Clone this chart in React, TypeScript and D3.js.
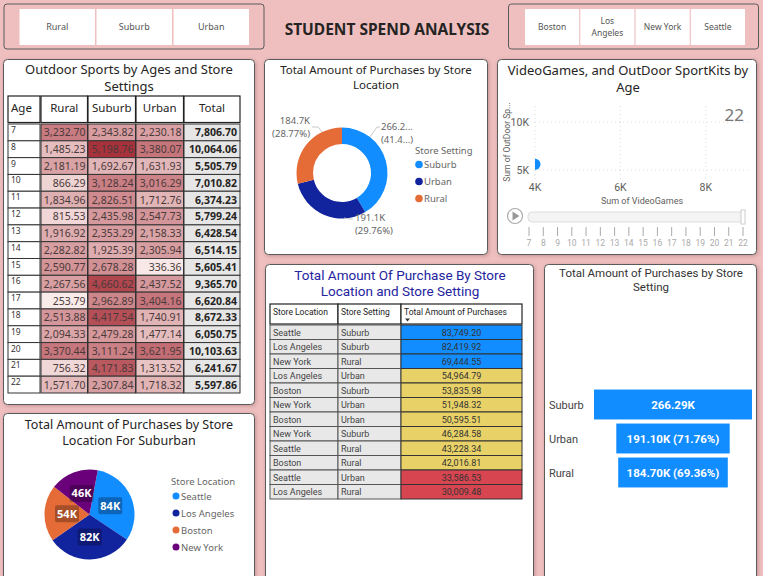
import React from "react";
import * as d3 from "d3";

// ---------- DATA ----------
const settingSlicer = ["Rural", "Suburb", "Urban"];
const locationSlicer = ["Boston", "Los Angeles", "New York", "Seattle"];

const ages = [7, 8, 9, 10, 11, 12, 13, 14, 15, 16, 17, 18, 19, 20, 21, 22];
const ruralByAge = [3232.70, 1485.23, 2181.19, 866.29, 1834.96, 815.53, 1916.92, 2282.82, 2590.77, 2267.56, 253.79, 2513.88, 2094.33, 3370.44, 756.32, 1571.70];
const suburbByAge = [2343.82, 5198.76, 1692.67, 3128.24, 2826.51, 2435.98, 2353.29, 1925.39, 2678.28, 4660.62, 2962.89, 4417.54, 2479.28, 3111.24, 4171.83, 2307.84];
const urbanByAge = [2230.18, 3380.07, 1631.93, 3016.29, 1712.76, 2547.73, 2158.33, 2305.94, 336.36, 2437.52, 3404.16, 1740.91, 1477.14, 3621.95, 1313.52, 1718.32];
const totalByAge = [7806.70, 10064.06, 5505.79, 7010.82, 6374.23, 5799.24, 6428.54, 6514.15, 5605.41, 9365.70, 6620.84, 8672.33, 6050.75, 10103.63, 6241.67, 5597.86];
const ageTableHeaders = ["Age", "Rural", "Suburb", "Urban", "Total"];

const donutSettings = ["Suburb", "Urban", "Rural"];
const donutValues = [266290, 191100, 184700];
const donutLabels = [["266.2...", "(41.4...)"], ["191.1K", "(29.76%)"], ["184.7K", "(28.77%)"]];

const scatterAge = [22];
const scatterVideoGames = [4000];
const scatterOutdoor = [5597.86];
const scatterXTicks = [4000, 6000, 8000];
const scatterYTicks = [5000, 10000];

const storeLocations = ["Seattle", "Los Angeles", "New York", "Los Angeles", "Boston", "New York", "Boston", "New York", "Seattle", "Boston", "Seattle", "Los Angeles"];
const storeSettings = ["Suburb", "Suburb", "Rural", "Urban", "Suburb", "Urban", "Urban", "Suburb", "Rural", "Rural", "Urban", "Rural"];
const storeAmounts = [83749.20, 82419.92, 69444.55, 54964.79, 53835.98, 51948.32, 50595.51, 46284.58, 43228.34, 42016.81, 33586.53, 30009.48];
const storeHeaders = ["Store Location", "Store Setting", "Total Amount of Purchases"];

const funnelSettings = ["Suburb", "Urban", "Rural"];
const funnelValues = [266290, 191100, 184700];
const funnelLabels = ["266.29K", "191.10K (71.76%)", "184.70K (69.36%)"];

const pieLocations = ["Seattle", "Los Angeles", "Boston", "New York"];
const pieValues = [83749.20, 82419.92, 53835.98, 46284.58];
const pieLabels = ["84K", "82K", "54K", "46K"];

// ---------- STYLE ----------
const SEGOE = "'Noto Sans', 'Open Sans', sans-serif";
const DIN = "'Roboto', 'Noto Sans', sans-serif";
const PINK = "#efbfc0";
const BORDER = "#5a5a5a";
const C_BLUE = "#118dff";
const C_NAVY = "#12239e";
const C_ORANGE = "#e66c37";
const C_PURPLE = "#6b007b";

const fmt2 = d3.format(",.2f");

function Panel({ x, y, w, h }: { x: number; y: number; w: number; h: number }) {
  return <rect x={x} y={y} width={w} height={h} rx={4} fill="#fff" stroke={BORDER} strokeWidth={1} filter="url(#shadow)" />;
}

function Slicers() {
  const left = d3.scaleBand<string>().domain(settingSlicer).range([19.5, 249]).paddingInner(0.02);
  const right = d3.scaleBand<string>().domain(locationSlicer).range([525, 745]).paddingInner(0.02);
  return (
    <g>
      <rect x={4} y={4} width={260} height={45} rx={3} fill={PINK} stroke={BORDER} strokeWidth={1} />
      {settingSlicer.map((s) => (
        <g key={s}>
          <rect x={left(s)} y={9} width={left.bandwidth()} height={36} fill="#fff" />
          <text x={left(s)! + left.bandwidth() / 2} y={30} textAnchor="middle" fontFamily={SEGOE} fontSize={9} fill="#555">{s}</text>
        </g>
      ))}
      <rect x={508.5} y={4} width={250} height={45} rx={3} fill={PINK} stroke={BORDER} strokeWidth={1} />
      {locationSlicer.map((s) => {
        const parts = s === "Los Angeles" ? ["Los", "Angeles"] : [s];
        return (
          <g key={s}>
            <rect x={right(s)} y={9} width={right.bandwidth()} height={36} fill="#fff" />
            {parts.map((p, i) => (
              <text key={p} x={right(s)! + right.bandwidth() / 2} y={parts.length === 1 ? 30 : 24 + i * 12} textAnchor="middle" fontFamily={SEGOE} fontSize={8.5} fill="#555">{p}</text>
            ))}
          </g>
        );
      })}
      <text x={387} y={35} textAnchor="middle" fontFamily={SEGOE} fontWeight={700} fontSize={15.5} fill="#252423">STUDENT SPEND ANALYSIS</text>
    </g>
  );
}

function AgeTable() {
  const cols = [[8, 40], [41, 87.5], [88, 135.5], [136, 183.5], [184, 240]];
  const rowY = d3.scaleBand<number>().domain(ages).range([124, 393]).padding(0);
  const all = [...ruralByAge, ...suburbByAge, ...urbanByAge];
  const color = d3.scaleLinear<string>().domain([d3.min(all)!, d3.max(all)!]).range(["#f9ebea", "#a8323b"]).interpolate(d3.interpolateRgb);
  const series = [ruralByAge, suburbByAge, urbanByAge];
  return (
    <g>
      <Panel x={3.5} y={59.5} w={251} h={345} />
      <text x={129} y={74} textAnchor="middle" fontFamily={SEGOE} fontSize={13} fill="#252423">Outdoor Sports by Ages and Store</text>
      <text x={129} y={91} textAnchor="middle" fontFamily={SEGOE} fontSize={13} fill="#252423">Settings</text>
      {ageTableHeaders.map((h, i) => (
        <g key={h}>
          <rect x={cols[i][0]} y={96} width={cols[i][1] - cols[i][0]} height={26.5} fill="#fff" stroke="#222" strokeWidth={1.2} />
          <text x={i === 0 ? cols[i][0] + 3 : (cols[i][0] + cols[i][1]) / 2} y={112} textAnchor={i === 0 ? "start" : "middle"} fontFamily={SEGOE} fontSize={11.5} fill="#252423">{h}</text>
        </g>
      ))}
      {ages.map((a, r) => {
        const y = rowY(a)!;
        const hgt = rowY.bandwidth();
        return (
          <g key={a}>
            <rect x={cols[0][0]} y={y} width={cols[0][1] - cols[0][0]} height={hgt} fill="#fff" stroke="#333" strokeWidth={1} />
            <text x={cols[0][0] + 3} y={y + 9} fontFamily={SEGOE} fontSize={8.5} fill="#333">{a}</text>
            {series.map((s, c) => (
              <g key={c}>
                <rect x={cols[c + 1][0]} y={y} width={cols[c + 1][1] - cols[c + 1][0]} height={hgt} fill={color(s[r])} stroke="#333" strokeWidth={1} />
                <text x={cols[c + 1][1] - 2} y={y + hgt / 2 + 4} textAnchor="end" fontFamily={SEGOE} fontSize={10.5} fill="#4a3a3a">{fmt2(s[r])}</text>
              </g>
            ))}
            <rect x={cols[4][0]} y={y} width={cols[4][1] - cols[4][0]} height={hgt} fill="#e6e6e6" stroke="#333" strokeWidth={1} />
            <text x={cols[4][1] - 3} y={y + hgt / 2 + 4} textAnchor="end" fontFamily={SEGOE} fontWeight={700} fontSize={10.5} fill="#252423">{fmt2(totalByAge[r])}</text>
          </g>
        );
      })}
    </g>
  );
}

function Donut() {
  const cx = 342, cy = 173;
  const colors = d3.scaleOrdinal<string, string>().domain(donutSettings).range([C_BLUE, C_NAVY, C_ORANGE]);
  const pie = d3.pie<number>().sort(null).value((d) => d);
  const arcs = pie(donutValues);
  const arc = d3.arc<d3.PieArcDatum<number>>().innerRadius(29).outerRadius(45.5);
  const labelPos = [
    { x: cx + 39, y: cy - 43, anchor: "start", line: [[cx + 28, cy - 36], [cx + 35, cy - 46], [cx + 38, cy - 46]] },
    { x: cx + 13, y: cy + 48, anchor: "start", line: [[cx + 2, cy + 45], [cx + 7, cy + 46], [cx + 11, cy + 46]] },
    { x: cx - 32, y: cy - 49, anchor: "end", line: [[cx - 20, cy - 41], [cx - 24, cy - 46], [cx - 30, cy - 46]] },
  ];
  return (
    <g>
      <Panel x={264.5} y={59.5} w={223} h={195} />
      <text x={376} y={74} textAnchor="middle" fontFamily={SEGOE} fontSize={11.5} fill="#252423">Total Amount of Purchases by Store</text>
      <text x={376} y={89} textAnchor="middle" fontFamily={SEGOE} fontSize={11.5} fill="#252423">Location</text>
      <g transform={`translate(${cx},${cy})`}>
        {arcs.map((a, i) => (
          <path key={i} d={arc(a)!} fill={colors(donutSettings[i])} />
        ))}
      </g>
      {labelPos.map((l, i) => (
        <g key={i}>
          <polyline points={l.line.map((p) => p.join(",")).join(" ")} fill="none" stroke="#c8c8c8" strokeWidth={1} />
          <text x={l.x} y={l.y} textAnchor={l.anchor} fontFamily={SEGOE} fontSize={9.5} fill="#666">{donutLabels[i][0]}</text>
          <text x={l.x} y={l.y + 13} textAnchor={l.anchor} fontFamily={SEGOE} fontSize={9.5} fill="#666">{donutLabels[i][1]}</text>
        </g>
      ))}
      <text x={415} y={154} fontFamily={SEGOE} fontSize={9.5} fill="#666">Store Setting</text>
      {donutSettings.map((s, i) => (
        <g key={s}>
          <circle cx={419} cy={164.5 + i * 17} r={3.8} fill={colors(s)} />
          <text x={424} y={168 + i * 17} fontFamily={SEGOE} fontSize={9.5} fill="#666">{s}</text>
        </g>
      ))}
    </g>
  );
}

function Scatter() {
  const x = d3.scaleLinear().domain([4000, 9000]).range([535, 748.5]);
  const y = d3.scaleLinear().domain([5000, 10000]).range([170, 122]);
  const top = 106, bottom = 180;
  const slider = d3.scalePoint<number>().domain(ages).range([529, 743]);
  return (
    <g>
      <Panel x={497.5} y={59.5} w={259} h={195} />
      <defs>
        <clipPath id="plotClip">
          <rect x={x(4000)} y={top} width={x(9000) - x(4000)} height={bottom - top} />
        </clipPath>
      </defs>
      <text x={628} y={75} textAnchor="middle" fontFamily={SEGOE} fontSize={13} fill="#252423">VideoGames, and OutDoor SportKits by</text>
      <text x={628} y={92} textAnchor="middle" fontFamily={SEGOE} fontSize={13} fill="#252423">Age</text>
      {scatterXTicks.map((t) => (
        <g key={t}>
          <line x1={x(t)} x2={x(t)} y1={top} y2={bottom} stroke="#ddd" strokeDasharray="1,3" />
          <text x={x(t)} y={191} textAnchor="middle" fontFamily={DIN} fontSize={10.5} fill="#605e5c">{d3.format("~s")(t).replace("k", "K")}</text>
        </g>
      ))}
      {scatterYTicks.map((t) => (
        <g key={t}>
          <line x1={x(4000)} x2={x(9000)} y1={y(t)} y2={y(t)} stroke="#ddd" strokeDasharray="1,3" />
          <text x={529} y={y(t) + 4} textAnchor="end" fontFamily={DIN} fontSize={10.5} fill="#605e5c">{d3.format("~s")(t).replace("k", "K")}</text>
        </g>
      ))}
      <text transform={`translate(510,142) rotate(-90)`} textAnchor="middle" fontFamily={DIN} fontSize={8.5} fill="#605e5c">Sum of OutDoor Sp...</text>
      <text x={642} y={204} textAnchor="middle" fontFamily={DIN} fontSize={9} fill="#605e5c">Sum of VideoGames</text>
      <g clipPath="url(#plotClip)">
        {scatterAge.map((a, i) => (
          <circle key={a} cx={x(scatterVideoGames[i])} cy={y(scatterOutdoor[i])} r={5.5} fill={C_BLUE} />
        ))}
      </g>
      <text x={744} y={121} textAnchor="end" fontFamily={SEGOE} fontSize={17} fill="#777">{scatterAge[0]}</text>
      <circle cx={515} cy={216} r={7.5} fill="#fff" stroke="#aaa" strokeWidth={1.2} />
      <path d="M512.5,211.5 L519.5,216 L512.5,220.5 Z" fill="#999" />
      <rect x={528} y={212} width={216} height={10} rx={4} fill="#f4f4f4" stroke="#ddd" />
      <rect x={741} y={210} width={4} height={14} fill="#fff" stroke="#ccc" />
      {ages.map((a) => (
        <g key={a}>
          <line x1={slider(a)} x2={slider(a)} y1={227} y2={236} stroke="#aaa" strokeWidth={1} />
          <text x={slider(a)} y={246} textAnchor="middle" fontFamily={DIN} fontSize={8.5} fill="#aaa">{a}</text>
        </g>
      ))}
    </g>
  );
}

function StoreTable() {
  const cols = [[270, 338], [338, 401], [401, 522]];
  const rowY = d3.scaleBand<number>().domain(storeAmounts.map((_, i) => i)).range([325, 499]).padding(0);
  const color = d3.scaleThreshold<number, string>().domain([40000, 60000]).range(["#d64550", "#e8d166", C_BLUE]);
  return (
    <g>
      <rect x={265.5} y={264.5} width={268} height={330} rx={4} fill="#fff" stroke={BORDER} filter="url(#shadow)" />
      <text x={400} y={280} textAnchor="middle" fontFamily={DIN} fontSize={13.5} fill="#2424a0">Total Amount Of Purchase By Store</text>
      <text x={400} y={296} textAnchor="middle" fontFamily={DIN} fontSize={13.5} fill="#2424a0">Location and Store Setting</text>
      {storeHeaders.map((h, i) => (
        <g key={h}>
          <rect x={cols[i][0]} y={304} width={cols[i][1] - cols[i][0]} height={20} fill="#fff" stroke="#222" strokeWidth={1.2} />
          <text x={cols[i][0] + 3} y={315} fontFamily={DIN} fontSize={8.5} fill="#252423">{h}</text>
        </g>
      ))}
      <path d="M405,318.5 L410,318.5 L407.5,321.5 Z" fill="#333" />
      {storeAmounts.map((v, i) => {
        const y = rowY(i)!;
        const hh = rowY.bandwidth();
        return (
          <g key={i}>
            <rect x={cols[0][0]} y={y} width={cols[0][1] - cols[0][0]} height={hh} fill="#e8e8e8" stroke="#555" strokeWidth={1} />
            <text x={cols[0][0] + 3} y={y + hh / 2 + 3.5} fontFamily={DIN} fontSize={9} fill="#444">{storeLocations[i]}</text>
            <rect x={cols[1][0]} y={y} width={cols[1][1] - cols[1][0]} height={hh} fill="#e8e8e8" stroke="#555" strokeWidth={1} />
            <text x={cols[1][0] + 3} y={y + hh / 2 + 3.5} fontFamily={DIN} fontSize={9} fill="#444">{storeSettings[i]}</text>
            <rect x={cols[2][0]} y={y} width={cols[2][1] - cols[2][0]} height={hh} fill={color(v)} stroke="#333" strokeWidth={1} />
            <text x={(cols[2][0] + cols[2][1]) / 2} y={y + hh / 2 + 3.5} textAnchor="middle" fontFamily={DIN} fontSize={9} fill="#333">{fmt2(v)}</text>
          </g>
        );
      })}
    </g>
  );
}

function Funnel() {
  const cx = 673;
  const w = d3.scaleLinear().domain([0, d3.max(funnelValues)!]).range([0, 158]);
  const yb = d3.scaleBand<string>().domain(funnelSettings).range([387.5, 489.5]).paddingInner(0.12).paddingOuter(0.06);
  return (
    <g>
      <rect x={544.5} y={264.5} width={212} height={330} rx={4} fill="#fff" stroke={BORDER} filter="url(#shadow)" />
      <text x={651} y={277} textAnchor="middle" fontFamily={DIN} fontSize={11.5} fill="#333">Total Amount of Purchases by Store</text>
      <text x={651} y={291} textAnchor="middle" fontFamily={DIN} fontSize={11.5} fill="#333">Setting</text>
      {funnelSettings.map((s, i) => (
        <g key={s}>
          <rect x={cx - w(funnelValues[i]) / 2} y={yb(s)} width={w(funnelValues[i])} height={yb.bandwidth()} fill={C_BLUE} />
          <text x={549} y={yb(s)! + yb.bandwidth() / 2 + 4} fontFamily={DIN} fontSize={11} fill="#444">{s}</text>
          <text x={cx} y={yb(s)! + yb.bandwidth() / 2 + 4.5} textAnchor="middle" fontFamily={DIN} fontWeight={700} fontSize={11.5} fill="#fff">{funnelLabels[i]}</text>
        </g>
      ))}
    </g>
  );
}

function SuburbPie() {
  const cx = 89.5, cy = 514.5, r = 45;
  const colors = d3.scaleOrdinal<string, string>().domain(pieLocations).range([C_BLUE, C_NAVY, C_ORANGE, C_PURPLE]);
  const offset = (10.6 * Math.PI) / 180;
  const arcs = d3.pie<number>().sort(null).value((d) => d).startAngle(offset).endAngle(offset + 2 * Math.PI)(pieValues);
  const arc = d3.arc<d3.PieArcDatum<number>>().innerRadius(0).outerRadius(r);
  const lab = d3.arc<d3.PieArcDatum<number>>().innerRadius(0).outerRadius(r);
  return (
    <g>
      <rect x={3.5} y={413.5} width={251} height={180} rx={4} fill="#fff" stroke={BORDER} filter="url(#shadow)" />
      <text x={129} y={429} textAnchor="middle" fontFamily={SEGOE} fontSize={12.5} fill="#252423">Total Amount of Purchases by Store</text>
      <text x={129} y={445} textAnchor="middle" fontFamily={SEGOE} fontSize={12.5} fill="#252423">Location For Suburban</text>
      <g transform={`translate(${cx},${cy})`}>
        {arcs.map((a, i) => (
          <path key={i} d={arc(a)!} fill={colors(pieLocations[i])} />
        ))}
        {arcs.map((a, i) => {
          const [lx, ly] = lab.centroid(a);
          return (
            <g key={"l" + i}>
              <rect x={lx - 12} y={ly - 8.5} width={24} height={17} rx={2} fill="#000" opacity={0.28} />
              <text x={lx} y={ly + 4} textAnchor="middle" fontFamily={SEGOE} fontWeight={700} fontSize={11} fill="#fff">{pieLabels[i]}</text>
            </g>
          );
        })}
      </g>
      <text x={171} y={485} fontFamily={SEGOE} fontSize={9.5} fill="#666">Store Location</text>
      {pieLocations.map((s, i) => (
        <g key={s}>
          <circle cx={176} cy={496 + i * 17} r={3.5} fill={colors(s)} />
          <text x={181} y={500 + i * 17} fontFamily={SEGOE} fontSize={9.5} fill="#666">{s}</text>
        </g>
      ))}
    </g>
  );
}

export default function App() {
  return (
    <svg width={763} height={576} style={{ position: "absolute", left: 0, top: 0, display: "block" }}>
      <defs>
        <filter id="shadow" x="-10%" y="-10%" width="120%" height="120%">
          <feDropShadow dx={1} dy={1} stdDeviation={2} floodColor="#8a5a5a" floodOpacity={0.45} />
        </filter>
      </defs>
      <rect x={0} y={0} width={763} height={576} fill={PINK} />
      <Slicers />
      <AgeTable />
      <Donut />
      <Scatter />
      <StoreTable />
      <Funnel />
      <SuburbPie />
    </svg>
  );
}
